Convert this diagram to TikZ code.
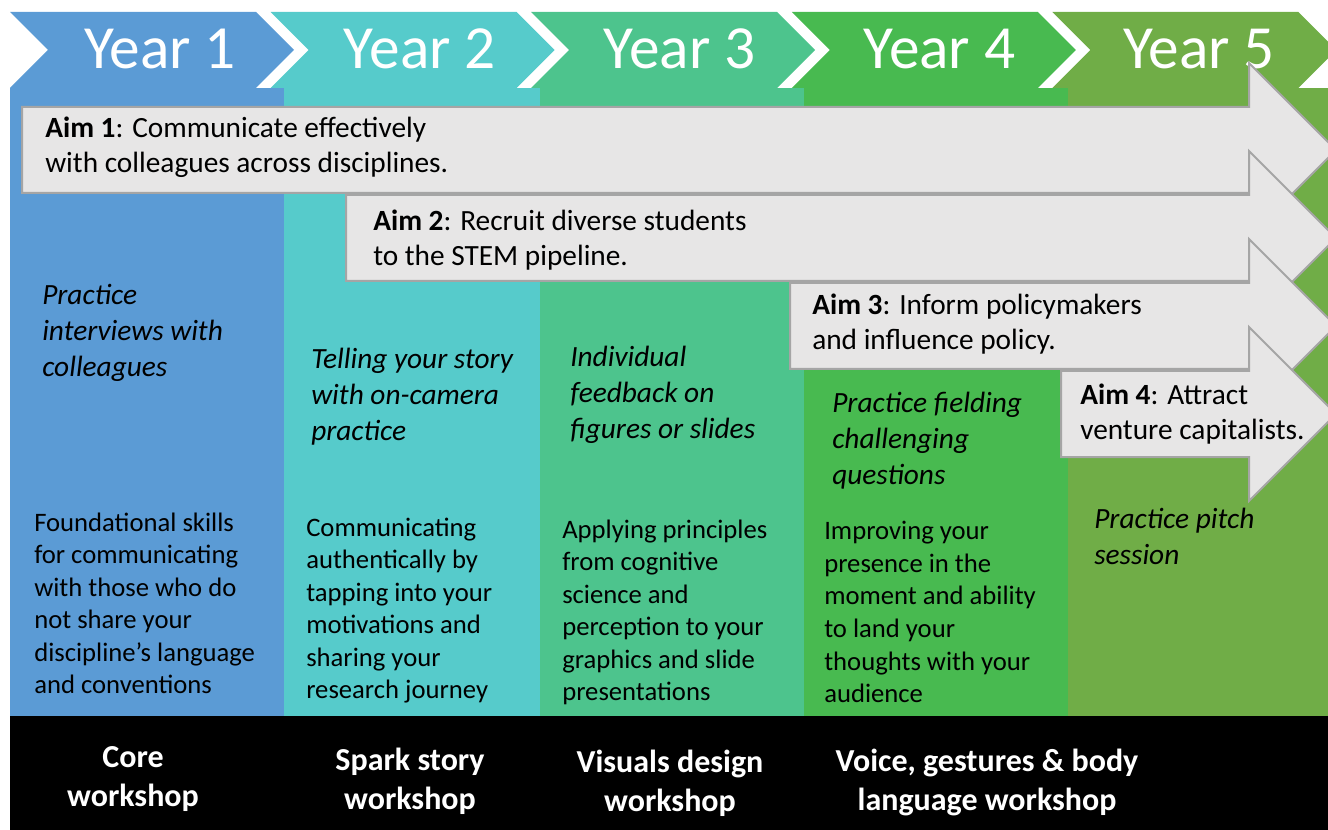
\documentclass[tikz,border=0pt]{standalone}
\usepackage{fontspec}
\setmainfont{Carlito}
\usepackage{xcolor}

\definecolor{yearA}{HTML}{5B9BD5}
\definecolor{yearB}{HTML}{56CBCB}
\definecolor{yearC}{HTML}{4DC48D}
\definecolor{yearD}{HTML}{48BA50}
\definecolor{yearE}{HTML}{70AD47}
\definecolor{aimfill}{HTML}{E7E6E6}
\definecolor{aimline}{HTML}{A5A5A5}

\tikzset{
  yeartext/.style={text=white, inner sep=0pt, font=\fontsize{46}{50}\selectfont},
  aimshape/.style={fill=aimfill, draw=aimline, line width=1.5pt},
  aimtext/.style={anchor=north west, align=left, inner sep=0pt, font=\fontsize{22}{26.3}\selectfont},
  notetext/.style={anchor=north west, align=left, inner sep=0pt, font=\fontsize{22}{27}\selectfont\itshape},
  desctext/.style={anchor=north west, align=left, inner sep=0pt, font=\fontsize{20}{24.4}\selectfont},
  shoptext/.style={align=center, inner sep=0pt, text=white, font=\fontsize{24}{29.3}\selectfont\bfseries},
}

\begin{document}
\begin{tikzpicture}[x=0.75pt,y=0.75pt,yscale=-1,xscale=1]

\useasboundingbox (0,0) rectangle (1328,830);
\clip (0,0) rectangle (1328,830);

% year columns
\foreach \c/\xa/\xb in {yearA/10/284, yearB/284/540, yearC/540/804, yearD/804/1068, yearE/1068/1328}
  \fill[\c] (\xa,88) rectangle (\xb,716);

% chevrons
\foreach \c [count=\i from 0] in {yearA,yearB,yearC,yearD,yearE}
  \fill[\c] ({10+260.6*\i},12) -- ({256+260.6*\i},12) -- ({294+260.6*\i},50) -- ({256+260.6*\i},88) -- ({10+260.6*\i},88) -- ({48+260.6*\i},50) -- cycle;

\foreach \i in {1,...,5}
  \node[yeartext] (year\i) at ({160+259.8*(\i-1)},49) {Year \i};

% workshop bar
\fill[black] (10,716) rectangle (1328,830);

% aim arrows
\foreach \xa/\ya in {22/107, 346/195, 790/283, 1061/371}
  \draw[aimshape] (\xa,\ya) -- (1249,\ya) -- (1249,\ya-44) -- (1336,\ya+43) -- (1249,\ya+130) -- (1249,\ya+86) -- (\xa,\ya+86) -- cycle;

\node[aimtext] (aim1) at (45,116.5) {\textbf{Aim 1}: Communicate effectively\\with colleagues across disciplines.};
\node[aimtext] (aim2) at (373,209.5) {\textbf{Aim 2}: Recruit diverse students\\to the STEM pipeline.};
\node[aimtext] (aim3) at (812,293.5) {\textbf{Aim 3}: Inform policymakers\\and influence policy.};
\node[aimtext] (aim4) at (1080,383.5) {\textbf{Aim 4}: Attract\\venture capitalists.};

% practice notes
\node[notetext] (note1) at (42,283.5) {Practice\\interviews with\\colleagues};
\node[notetext] (note2) at (311,347.5) {Telling your story\\with on-camera\\practice};
\node[notetext] (note3) at (570,345.5) {Individual\\feedback on\\figures or slides};
\node[notetext] (note4) at (832,391.5) {Practice fielding\\challenging\\questions};
\node[notetext] (note5) at (1094,507.5) {Practice pitch\\session};

% descriptions
\node[desctext] (desc1) at (34,512.3) {Foundational skills\\for communicating\\with those who do\\not share your\\discipline’s language\\and conventions};
\node[desctext] (desc2) at (306,517.3) {Communicating\\authentically by\\tapping into your\\motivations and\\sharing your\\research journey};
\node[desctext] (desc3) at (562,519.3) {Applying principles\\from cognitive\\science and\\perception to your\\graphics and slide\\presentations};
\node[desctext] (desc4) at (824,521.3) {Improving your\\presence in the\\moment and ability\\to land your\\thoughts with your\\audience};

% workshops
\node[shoptext] (shop1) at (133,779) {Core\\workshop};
\node[shoptext] (shop2) at (410,781.5) {Spark story\\workshop};
\node[shoptext] (shop3) at (670,783.5) {Visuals design\\workshop};
\node[shoptext] (shop4) at (987,782.5) {Voice, gestures \& body\\language workshop};

\end{tikzpicture}
\end{document}
